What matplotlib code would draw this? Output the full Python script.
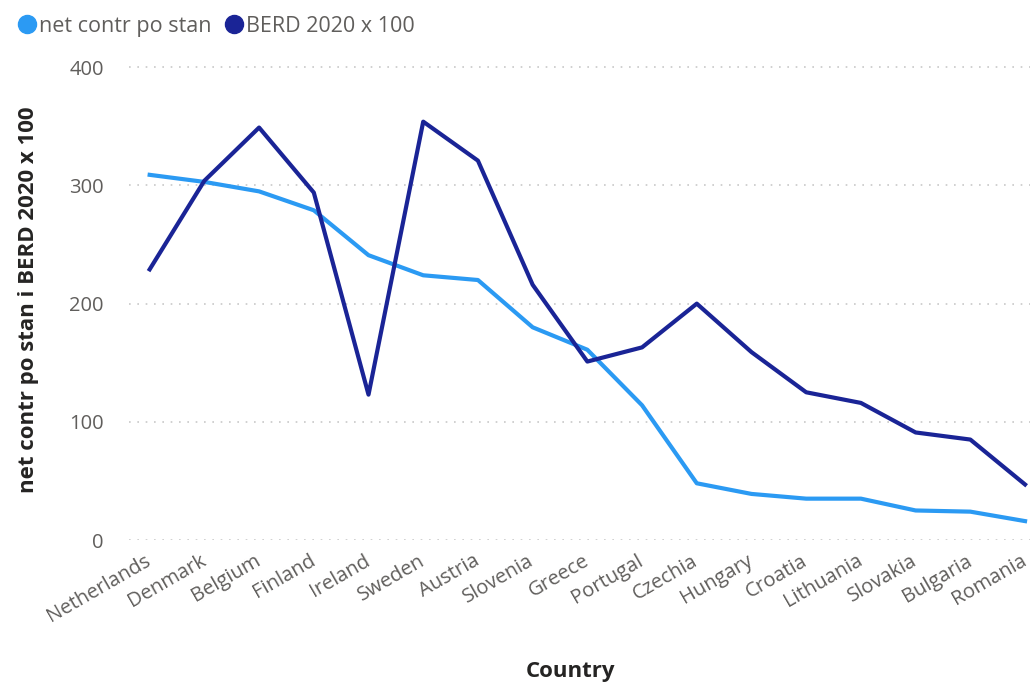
import matplotlib.pyplot as plt
from matplotlib.lines import Line2D

countries = ["Netherlands", "Denmark", "Belgium", "Finland", "Ireland", "Sweden",
             "Austria", "Slovenia", "Greece", "Portugal", "Czechia", "Hungary",
             "Croatia", "Lithuania", "Slovakia", "Bulgaria", "Romania"]
net_contr = [309, 303, 295, 279, 241, 224, 220, 180, 161, 114, 48, 39, 35, 35, 25, 24, 16]
berd = [229, 304, 349, 294, 123, 354, 321, 216, 151, 163, 200, 159, 125, 116, 91, 85, 47]

light = "#2b9af3"
dark = "#1a2496"
grey = "#605e5c"

plt.rcParams["font.family"] = ["Open Sans", "DejaVu Sans"]

fig = plt.figure(figsize=(10.31, 6.84), dpi=100)
ax = fig.add_axes([0.125, 0.2105, 0.874, 0.7015])

x = range(len(countries))
ax.plot(x, net_contr, color=light, lw=3, solid_joinstyle="round", zorder=3)
ax.plot(x, berd, color=dark, lw=3, solid_joinstyle="round", zorder=3)

ax.set_xlim(-0.38, 16.09)
ax.set_ylim(0, 406)
ax.set_yticks([0, 100, 200, 300, 400])
ax.yaxis.grid(True, linestyle=(0, (1, 4)), color="#c8c8c8", lw=1.2)
ax.set_axisbelow(True)
for s in ax.spines.values():
    s.set_visible(False)
ax.tick_params(length=0, labelsize=14.5, labelcolor=grey)
ax.tick_params(axis="y", pad=18)
ax.set_xticks(list(x))
ax.set_xticklabels(countries, rotation=30, ha="right", va="center",
                   rotation_mode="anchor")
ax.tick_params(axis="x", pad=14)

ax.set_ylabel("net contr po stan i BERD 2020 x 100", fontsize=16, fontweight="bold",
              color="#252423")
ax.yaxis.set_label_coords(-0.1, 0.5)
ax.set_xlabel("Country", fontsize=16, fontweight="bold", color="#252423")
ax.xaxis.set_label_coords(0.49, -0.275)
ax.xaxis.label.set_va("center")

handles = [Line2D([], [], marker="o", ls="", color=light, markersize=13),
           Line2D([], [], marker="o", ls="", color=dark, markersize=13)]
fig.legend(handles, ["net contr po stan", "BERD 2020 x 100"], loc="upper left",
           bbox_to_anchor=(-0.004, 1.005), ncol=2, frameon=False, fontsize=15.5,
           labelcolor=grey, handletextpad=0.0, columnspacing=0.5, handlelength=1.1)

fig.savefig("out.png", dpi=100)
